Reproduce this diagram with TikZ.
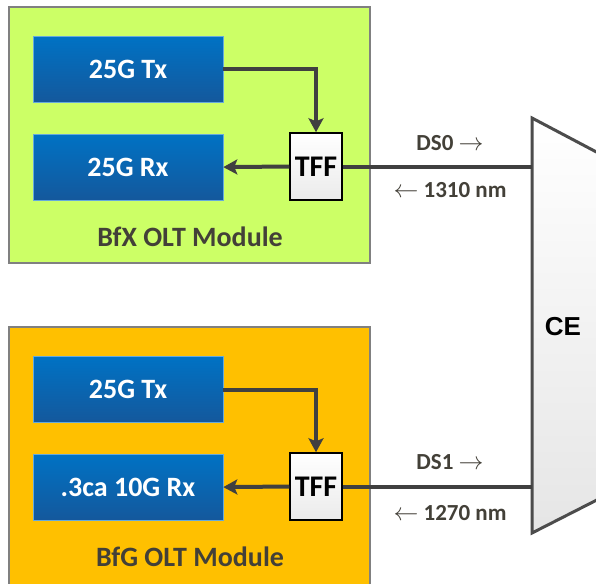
\documentclass[tikz,border=0pt]{standalone}
\usepackage{fontspec}
\setmainfont{Carlito}
\newfontfamily\cefont{Liberation Sans}
\usetikzlibrary{shapes,arrows.meta,positioning}
\definecolor{limefill}{RGB}{204,255,102}
\definecolor{goldfill}{RGB}{255,192,0}
\definecolor{boxblue}{RGB}{0,114,196}
\definecolor{boxbluedark}{RGB}{20,88,156}
\definecolor{wire}{RGB}{64,64,64}
\definecolor{frame}{RGB}{128,128,128}

\tikzset{
  module/.style={rectangle, draw=frame, line width=1.5pt, minimum width=361pt, minimum height=256pt, inner sep=0pt},
  trx/.style={rectangle, draw=boxblue!60!white, line width=0.6pt, top color=boxblue, bottom color=boxbluedark, text=white, font=\bfseries\fontsize{28}{30}\selectfont, minimum width=190pt, minimum height=66pt, inner sep=0pt},
  tffbox/.style={rectangle, draw=black, line width=1.5pt, top color=white, bottom color=black!8, font=\bfseries\fontsize{30}{32}\selectfont, minimum width=52pt, minimum height=67pt, inner sep=0pt},
  wireline/.style={line width=4pt, draw=wire},
  wirearrow/.style={wireline, -{Stealth[length=14pt,width=15pt,inset=3pt]}},
  modlabel/.style={font=\bfseries\fontsize{28}{30}\selectfont, text=black!85!yellow},
  wavelabel/.style={font=\bfseries\fontsize{23}{25}\selectfont, text=black!85!yellow}
}

\begin{document}
\begin{tikzpicture}[x=1pt, y=-1pt]
\path[use as bounding box, fill=white] (0,0) rectangle (596,583);

% modules
\node (bfx) [module, fill=limefill] at (189.5,135) {};
\node (bfg) [module, fill=goldfill, minimum height=259pt] at (189.5,456.5) {};

% BfX side
\node (txa) [trx] at (128,69.5) {25G Tx};
\node (rxa) [trx, below=31pt of txa] {25G Rx};
\node (tffa) [tffbox] at (316,166.5) {TFF};
\node (bfxlbl) [modlabel] at (190,237) {BfX OLT Module};

% BfG side
\node (txb) [trx] at (128,389.5) {25G Tx};
\node (rxb) [trx, below=31pt of txb] {.3ca 10G Rx};
\node (tffb) [tffbox] at (316,486.5) {TFF};
\node (bfglbl) [modlabel] at (190,557) {BfG OLT Module};

% combiner
\draw[line width=3pt, draw=black!70, top color=white, bottom color=black!10]
  (532,118) -- (640,175) -- (640,478) -- (532,533) -- cycle;
\coordinate (ceedge) at (532,0);
\node (ce) [font=\cefont\bfseries\fontsize{26}{28}\selectfont] at (563,327) {CE};

% wavelength labels
\node (dsa) [wavelabel] at (450,143) {DS0 $\rightarrow$};
\node (wla) [wavelabel] at (450,190) {$\leftarrow$ 1310 nm};
\node (dsb) [wavelabel] at (450,462) {DS1 $\rightarrow$};
\node (wlb) [wavelabel] at (450,513) {$\leftarrow$ 1270 nm};

% connections
\draw [wirearrow] (txa.east) -| (tffa.north);
\draw [wirearrow] (tffa.west) -- (rxa.east);
\draw [wireline] (tffa.east) -- (tffa.east -| ceedge);
\draw [wirearrow] (txb.east) -| (tffb.north);
\draw [wirearrow] (tffb.west) -- (rxb.east);
\draw [wireline] (tffb.east) -- (tffb.east -| ceedge);
\end{tikzpicture}
\end{document}
